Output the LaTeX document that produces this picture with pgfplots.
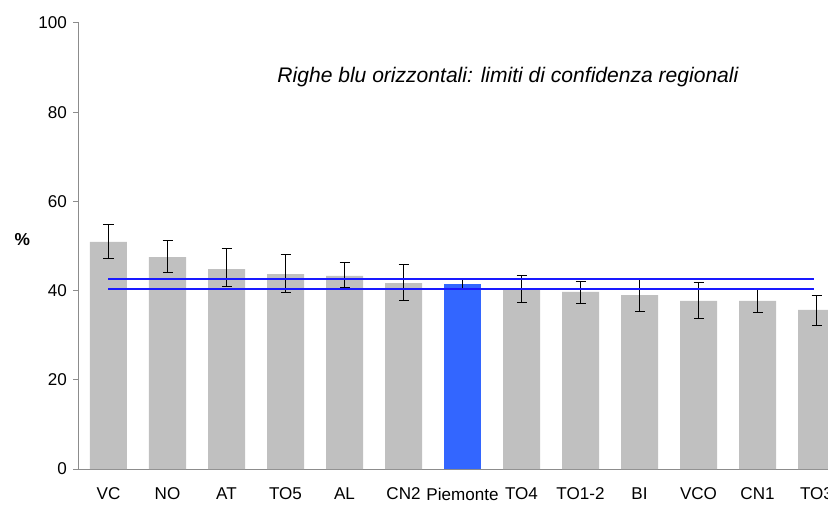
\documentclass[border=0pt]{standalone}
\usepackage{pgfplots}
\pgfplotsset{compat=1.18}
\usepackage{fontspec}
\setmainfont{Liberation Sans}
\definecolor{bargray}{HTML}{C0C0C0}
\definecolor{barblue}{HTML}{3366FF}
\definecolor{axgray}{HTML}{8C8C8C}
\definecolor{cilines}{HTML}{1A1AFF}
\pgfplotsset{
    cibars/.style={
        error bars/y dir=both,
        error bars/y explicit,
        error bars/error bar style={black, line width=0.75pt},
        error bars/error mark options={rotate=90, black, mark size=3.75pt, line width=0.75pt},
    },
}
\begin{document}
\begin{tikzpicture}
\begin{axis}[
    at={(0,0)}, anchor=south west,
    scale only axis, width=575.25pt, height=334.5pt,
    xmin=-0.5, xmax=12.5, ymin=0, ymax=100,
    axis x line=bottom, axis y line=left,
    axis line style={-, axgray, line width=0.75pt},
    xtick={0,...,12},
    xticklabels={VC,NO,AT,TO5,AL,CN2,Piemonte,TO4,TO1-2,BI,VCO,CN1,TO3},
    x tick style={draw=none},
    ytick={0,20,...,100},
    y tick style={axgray, line width=0.75pt},
    tick align=outside, major tick length=4.5pt,
    tick label style={font=\fontsize{12.8}{15}\selectfont},
    /pgf/number format/assume math mode=true,
    xticklabel style={yshift=-6pt},
    yticklabel style={xshift=-1pt},
    ylabel={\textbf{\%}},
    ylabel style={at={(axis description cs:-0.074,0.515)}, rotate=-90, anchor=center, font=\fontsize{13}{15}\selectfont},
]
\addplot[ybar, bar width=27.75pt, bar shift=0pt, fill=bargray, draw=none, cibars]
coordinates {
    (0,50.9) += (0,4.0) -= (0,3.7)
    (1,47.5) += (0,3.7) -= (0,3.5)
    (2,44.8) += (0,4.6) -= (0,3.8)
    (3,43.7) += (0,4.4) -= (0,4.1)
    (4,43.3) += (0,3.0) -= (0,2.6)
    (5,41.7) += (0,4.2) -= (0,4.0)
    (7,40.1) += (0,3.3) -= (0,2.7)
    (8,39.7) += (0,2.4) -= (0,2.6)
    (9,39.0) += (0,3.7) -= (0,3.7)
    (10,37.7) += (0,4.1) -= (0,4.0)
    (11,37.7) += (0,2.6) -= (0,2.7)
    (12,35.7) += (0,3.3) -= (0,3.6)
};
\addplot[ybar, bar width=27.75pt, bar shift=0pt, fill=barblue, draw=none, cibars]
coordinates {
    (6,41.4) += (0,1.1) -= (0,1.1)
};
\addplot[draw=cilines, no marks, line width=1.5pt, forget plot] coordinates {(0,42.5) (11.95,42.5)};
\addplot[draw=cilines, no marks, line width=1.5pt, forget plot] coordinates {(0,40.3) (11.95,40.3)};
\node[font=\itshape\fontsize{15.8}{18}\selectfont] at (axis cs:6.77,87.9)
    {Righe blu orizzontali: limiti di confidenza regionali};
\end{axis}
\pgfresetboundingbox
\path (-59.25pt,-26.25pt) rectangle (561.75pt,351.75pt);
\end{tikzpicture}
\end{document}
